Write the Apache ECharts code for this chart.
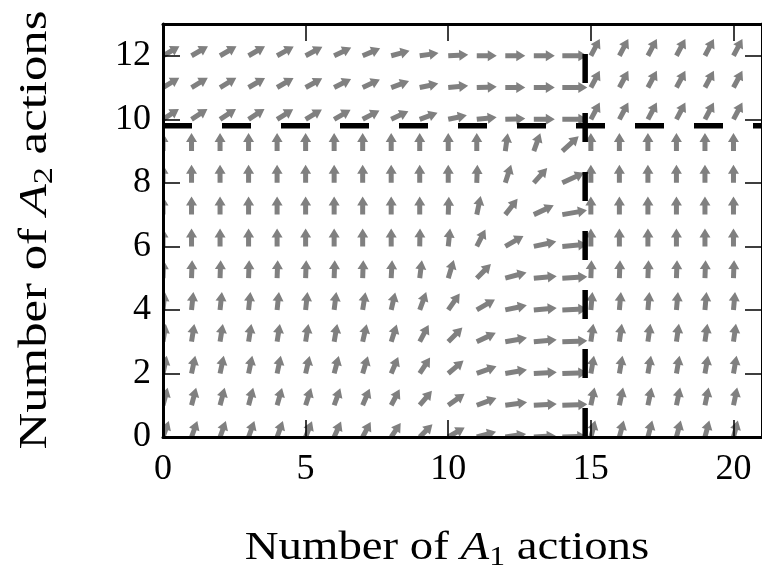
<!DOCTYPE html>
<html>
<head>
<meta charset="utf-8">
<script src="https://cdn.jsdelivr.net/npm/echarts/dist/echarts.min.js"></script>
<style>
  html, body { margin: 0; padding: 0; background: #fff; }
  #main { width: 762px; height: 569px; }
</style>
</head>
<body>
<div id="main"></div>
<script>
// grid of arrow tails
const colsX = [0, 1, 2, 3, 4, 5, 6, 7, 8, 9, 10, 11, 12, 13, 14, 15, 16, 17, 18, 19, 20];
const rowsY = [12, 11, 10, 9, 8, 7, 6, 5, 4, 3, 2, 1, 0];

// arrow direction (degrees, counter-clockwise from +x) per row
const ang12 = [30, 30, 30, 30, 29, 28, 26, 23, 15, 8, 3, 0, 0, 0, 0, 62, 62, 62, 62, 62, 62];
const ang11 = [31, 31, 31, 30, 30, 29, 27, 25, 20, 12, 5, 2, 0, 0, 0, 62, 62, 62, 62, 62, 62];
const ang10 = [33, 33, 33, 33, 32, 31, 30, 28, 25, 20, 12, 6, 2, 0, 0, 62, 62, 62, 62, 62, 62];
const ang9 = [90, 90, 90, 90, 90, 90, 90, 90, 90, 90, 90, 90, 82, 70, 42, 90, 90, 90, 90, 90, 90];
const ang8 = [90, 90, 90, 90, 90, 90, 90, 90, 90, 90, 90, 88, 72, 48, 25, 90, 90, 90, 90, 90, 90];
const ang7 = [90, 90, 90, 90, 90, 90, 90, 90, 90, 90, 88, 78, 52, 25, 10, 90, 90, 90, 90, 90, 90];
const ang6 = [90, 90, 90, 90, 90, 90, 90, 90, 90, 89, 84, 63, 30, 12, 5, 90, 90, 90, 90, 90, 90];
const ang5 = [88, 88, 88, 88, 88, 88, 88, 88, 87, 83, 73, 45, 15, 5, 3, 88, 88, 88, 88, 88, 88];
const ang4 = [84, 84, 84, 84, 84, 84, 83, 81, 77, 70, 55, 30, 12, 5, 2, 85, 85, 85, 85, 85, 85];
const ang3 = [81, 81, 81, 81, 81, 81, 80, 77, 72, 62, 45, 25, 10, 5, 2, 82, 82, 82, 82, 82, 82];
const ang2 = [78, 78, 78, 78, 78, 77, 75, 73, 67, 57, 40, 20, 10, 3, 2, 80, 80, 80, 80, 80, 80];
const ang1 = [75, 75, 75, 75, 74, 72, 70, 67, 62, 50, 35, 20, 8, 3, 2, 78, 78, 78, 78, 78, 78];
const ang0 = [70, 70, 70, 70, 70, 68, 66, 62, 56, 45, 30, 15, 8, 3, 2, 75, 75, 75, 75, 75, 75];

// arrow magnitude per row
const mag12 = [19, 19, 19, 19, 19, 19, 19, 19, 19, 19, 20, 20, 20, 21, 25, 19, 19, 19, 19, 19, 19];
const mag11 = [19, 19, 19, 19, 19, 19, 19, 19, 19, 19, 20, 20, 20, 21, 25, 19, 19, 19, 19, 19, 19];
const mag10 = [19, 19, 19, 19, 19, 19, 19, 19, 19, 19, 19, 20, 20, 21, 25, 19, 19, 19, 19, 19, 19];
const mag9 = [18, 18, 18, 18, 18, 18, 18, 18, 18, 18, 18, 18, 18, 19, 22, 18, 18, 18, 18, 18, 18];
const mag8 = [18, 18, 18, 18, 18, 18, 18, 18, 18, 18, 18, 18, 19, 20, 24, 18, 18, 18, 18, 18, 18];
const mag7 = [18, 18, 18, 18, 18, 18, 18, 18, 18, 18, 18, 19, 20, 22, 25, 18, 18, 18, 18, 18, 18];
const mag6 = [18, 18, 18, 18, 18, 18, 18, 18, 18, 18, 18, 19, 21, 23, 25, 18, 18, 18, 18, 18, 18];
const mag5 = [18, 18, 18, 18, 18, 18, 18, 18, 18, 18, 19, 20, 22, 23, 25, 18, 18, 18, 18, 18, 18];
const mag4 = [18, 18, 18, 18, 18, 18, 18, 18, 18, 19, 20, 21, 22, 23, 25, 18, 18, 18, 18, 18, 18];
const mag3 = [18, 18, 18, 18, 18, 18, 18, 18, 18, 19, 20, 21, 22, 23, 25, 18, 18, 18, 18, 18, 18];
const mag2 = [18, 18, 18, 18, 18, 18, 18, 18, 18, 19, 20, 21, 22, 23, 25, 18, 18, 18, 18, 18, 18];
const mag1 = [18, 18, 18, 18, 18, 18, 18, 18, 18, 19, 20, 21, 22, 23, 25, 18, 18, 18, 18, 18, 18];
const mag0 = [17, 17, 17, 17, 17, 17, 17, 17, 17, 18, 19, 20, 21, 22, 24, 17, 17, 17, 17, 17, 17];

// threshold lines
const thresholdX = 14.8;
const thresholdY = 9.8;

const angRows = [ang12, ang11, ang10, ang9, ang8, ang7, ang6, ang5, ang4, ang3, ang2, ang1, ang0];
const magRows = [mag12, mag11, mag10, mag9, mag8, mag7, mag6, mag5, mag4, mag3, mag2, mag1, mag0];

const arrows = [];
rowsY.forEach((y, r) => {
  colsX.forEach((x, c) => {
    arrows.push([x, y, angRows[r][c], magRows[r][c]]);
  });
});

const serif = 'Liberation Serif';
const shaftW = 5, headW = 11, headL = 9;

function renderArrow(params, api) {
  const p = api.coord([api.value(0), api.value(1)]);
  const a = api.value(2) * Math.PI / 180;
  const L = api.value(3);
  const ux = Math.cos(a), uy = -Math.sin(a);
  const nx = -uy, ny = ux;
  const hl = Math.min(headL, L * 0.6);
  const b = L - hl;
  const pt = (s, t) => [p[0] + ux * s + nx * t, p[1] + uy * s + ny * t];
  const points = [
    pt(0, shaftW / 2), pt(b, shaftW / 2), pt(b, headW / 2), pt(L, 0),
    pt(b, -headW / 2), pt(b, -shaftW / 2), pt(0, -shaftW / 2)
  ];
  return { type: 'polygon', shape: { points: points }, style: { fill: '#808080' } };
}

const chart = echarts.init(document.getElementById('main'));

const tickStyle = { show: true, inside: true, length: 17, lineStyle: { color: '#000', width: 1.5 } };
const spine = { show: true, onZero: false, lineStyle: { color: '#000', width: 3 } };
const titleRich = {
  n: { fontFamily: serif, fontSize: 40, lineHeight: 46 },
  i: { fontFamily: serif, fontSize: 40, fontStyle: 'italic', lineHeight: 46 },
  s: { fontFamily: serif, fontSize: 27, lineHeight: 30, verticalAlign: 'bottom' }
};

chart.setOption({
  animation: false,
  backgroundColor: '#fff',
  grid: { left: 163, top: 24, width: 604, height: 413 },
  xAxis: [
    {
      type: 'value', min: 0, max: 21, interval: 5, position: 'bottom', z: 10,
      axisLine: spine, axisTick: tickStyle, splitLine: { show: false },
      axisLabel: {
        color: '#000', fontFamily: serif, fontSize: 36, margin: 15, showMaxLabel: false,
        formatter: v => (v % 5 === 0 ? String(v) : '')
      }
    },
    {
      type: 'value', min: 0, max: 21, interval: 5, position: 'top', z: 10,
      axisLine: spine, axisTick: tickStyle, splitLine: { show: false }, axisLabel: { show: false }
    }
  ],
  yAxis: [
    {
      type: 'value', min: 0, max: 13, interval: 2, position: 'left', z: 10,
      axisLine: spine, axisTick: tickStyle, splitLine: { show: false },
      axisLabel: {
        color: '#000', fontFamily: serif, fontSize: 36, margin: 12, showMaxLabel: false,
        formatter: v => (v % 2 === 0 ? String(v) : '')
      }
    },
    {
      type: 'value', min: 0, max: 13, interval: 2, position: 'right', z: 10,
      axisLine: spine, axisTick: tickStyle, splitLine: { show: false }, axisLabel: { show: false }
    }
  ],
  series: [
    {
      type: 'custom', clip: true, silent: true, z: 2,
      renderItem: renderArrow,
      data: arrows
    },
    {
      type: 'line', silent: true, z: 5, symbol: 'none',
      data: [[0, thresholdY], [21, thresholdY]],
      lineStyle: { color: '#000', width: 5.5, type: [29, 30] }
    },
    {
      type: 'line', silent: true, z: 5, symbol: 'none',
      data: [[thresholdX, 0], [thresholdX, 13]],
      lineStyle: { color: '#000', width: 5.5, type: [29, 30] }
    }
  ],
  graphic: [
    {
      type: 'text', x: 447, y: 548, scaleX: 1.17,
      style: {
        text: '{n|Number of }{i|A}{s|1}{n| actions}',
        fill: '#000', align: 'center', verticalAlign: 'middle',
        textAlign: 'center', textVerticalAlign: 'middle',
        rich: titleRich
      }
    },
    {
      type: 'text', x: 35, y: 230, rotation: Math.PI / 2, scaleX: 1.27,
      style: {
        text: '{n|Number of }{i|A}{s|2}{n| actions}',
        fill: '#000', align: 'center', verticalAlign: 'middle',
        textAlign: 'center', textVerticalAlign: 'middle',
        rich: titleRich
      }
    }
  ]
});
</script>
</body>
</html>
